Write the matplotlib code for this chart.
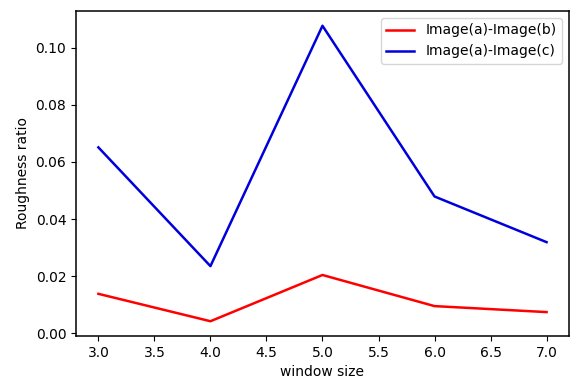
import matplotlib
matplotlib.use("Agg")
import matplotlib.pyplot as plt

window_size = [3.0, 4.0, 5.0, 6.0, 7.0]
ratio_ab = [0.0138, 0.0042, 0.0204, 0.0095, 0.0074]
ratio_ac = [0.0651, 0.0235, 0.1077, 0.0479, 0.0319]

fig = plt.figure(figsize=(5.73, 3.83), dpi=100)
ax = fig.add_axes([0.1326, 0.1227, 0.8604, 0.8486])

ax.plot(window_size, ratio_ab, color="red", lw=1.8, label="Image(a)-Image(b)")
ax.plot(window_size, ratio_ac, color="#0000dd", lw=1.8, label="Image(a)-Image(c)")

for s in ax.spines.values():
    s.set_linewidth(1.1)

ax.set_xlabel("window size")
ax.set_ylabel("Roughness ratio")
ax.legend(loc="upper right")

fig.savefig("out.png", dpi=100)
